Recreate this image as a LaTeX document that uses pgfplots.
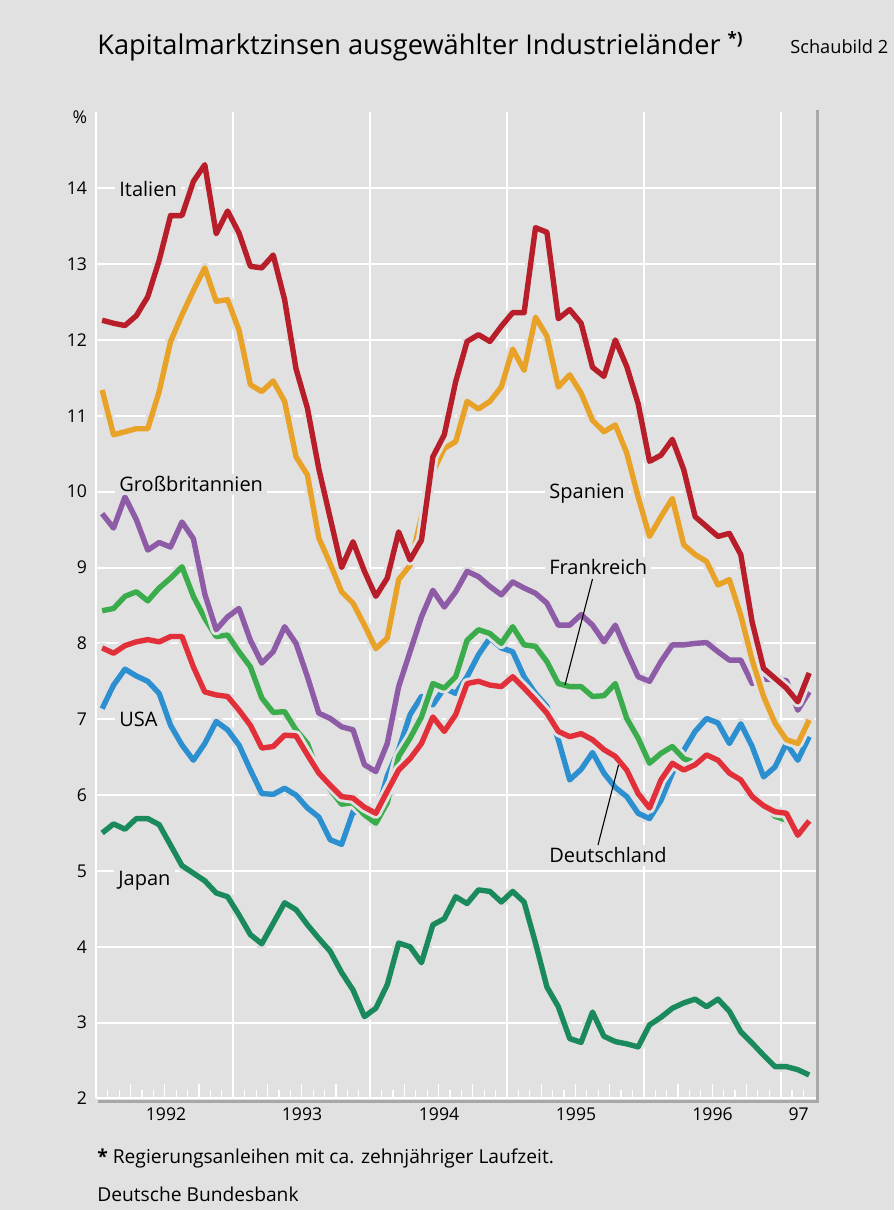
\documentclass[border=0pt]{standalone}
\usepackage{fontspec}
\setmainfont{Open Sans}
\usepackage{pgfplots}
\usepackage{pgfplotstable}
\pgfplotsset{compat=1.18}
\definecolor{bg}{HTML}{E1E1E1}
\definecolor{bordercol}{HTML}{A8A8A8}
\definecolor{itacol}{HTML}{B81D2A}
\definecolor{espcol}{HTML}{E8A228}
\definecolor{gbrcol}{HTML}{8E5BA6}
\definecolor{fracol}{HTML}{3AAC4C}
\definecolor{deucol}{HTML}{E2303A}
\definecolor{usacol}{HTML}{2B8FD0}
\definecolor{jpncol}{HTML}{1A8A5C}
\pgfplotstableread{
m ita esp gbr fra deu usa jpn
0.5 12.26 11.34 9.71 8.43 7.94 7.14 5.50
1.5 12.22 10.75 9.52 8.46 7.87 7.45 5.62
2.5 12.19 10.79 9.93 8.62 7.97 7.66 5.55
3.5 12.32 10.83 9.63 8.68 8.02 7.57 5.69
4.5 12.57 10.83 9.23 8.56 8.05 7.50 5.69
5.5 13.05 11.32 9.33 8.73 8.02 7.34 5.61
6.5 13.64 11.98 9.27 8.86 8.09 6.92 5.34
7.5 13.64 12.33 9.60 9.01 8.09 6.66 5.07
8.5 14.09 12.65 9.38 8.62 7.69 6.46 4.97
9.5 14.31 12.95 8.65 8.33 7.36 6.68 4.87
10.5 13.40 12.51 8.18 8.09 7.32 6.97 4.71
11.5 13.70 12.53 8.35 8.11 7.30 6.86 4.66
12.5 13.41 12.13 8.46 7.89 7.12 6.66 4.42
13.5 12.97 11.41 8.04 7.69 6.92 6.33 4.16
14.5 12.95 11.32 7.74 7.28 6.62 6.02 4.04
15.5 13.12 11.46 7.89 7.09 6.64 6.01 4.31
16.5 12.53 11.19 8.22 7.10 6.79 6.09 4.58
17.5 11.62 10.46 8.00 6.86 6.78 6.00 4.49
18.5 11.10 10.22 7.56 6.68 6.53 5.83 4.29
19.5 10.30 9.39 7.08 6.28 6.29 5.71 4.11
20.5 9.65 9.05 7.01 6.07 6.13 5.41 3.94
21.5 9.00 8.68 6.90 5.88 5.98 5.35 3.66
22.5 9.34 8.53 6.86 5.90 5.96 5.78 3.43
23.5 8.95 8.24 6.40 5.74 5.84 5.76 3.08
24.5 8.62 7.93 6.31 5.63 5.76 5.72 3.19
25.5 8.86 8.07 6.68 5.90 6.05 6.25 3.50
26.5 9.47 8.84 7.43 6.51 6.33 6.60 4.05
27.5 9.10 9.03 7.89 6.75 6.48 7.06 4.00
28.5 9.36 9.67 8.35 7.03 6.68 7.30 3.79
29.5 10.46 10.26 8.70 7.47 7.03 7.19 4.29
30.5 10.75 10.57 8.48 7.41 6.84 7.41 4.37
31.5 11.45 10.66 8.68 7.56 7.06 7.34 4.66
32.5 11.98 11.19 8.95 8.04 7.47 7.56 4.57
33.5 12.07 11.09 8.88 8.18 7.50 7.85 4.75
34.5 11.98 11.19 8.75 8.13 7.45 8.07 4.73
35.5 12.18 11.38 8.64 8.00 7.43 7.94 4.59
36.5 12.36 11.88 8.81 8.22 7.56 7.89 4.73
37.5 12.36 11.60 8.73 7.98 7.41 7.56 4.59
38.5 13.48 12.30 8.66 7.96 7.25 7.34 4.05
39.5 13.42 12.05 8.53 7.76 7.08 7.17 3.47
40.5 12.28 11.38 8.24 7.47 6.84 6.73 3.21
41.5 12.40 11.54 8.24 7.43 6.77 6.20 2.79
42.5 12.22 11.30 8.38 7.43 6.81 6.34 2.74
43.5 11.64 10.94 8.24 7.30 6.73 6.56 3.14
44.5 11.52 10.79 8.02 7.31 6.60 6.29 2.82
45.5 12.00 10.88 8.24 7.47 6.51 6.10 2.75
46.5 11.65 10.51 7.89 7.01 6.33 5.98 2.72
47.5 11.16 9.93 7.56 6.75 6.02 5.76 2.68
48.5 10.40 9.41 7.50 6.42 5.83 5.69 2.97
49.5 10.48 9.67 7.76 6.55 6.20 5.93 3.07
50.5 10.69 9.91 7.98 6.64 6.42 6.29 3.19
51.5 10.29 9.30 7.98 6.48 6.33 6.59 3.26
52.5 9.67 9.17 8.00 6.43 6.40 6.84 3.31
53.5 9.54 9.08 8.01 6.51 6.53 7.01 3.21
54.5 9.41 8.77 7.89 6.45 6.46 6.95 3.31
55.5 9.45 8.84 7.78 6.29 6.29 6.68 3.15
56.5 9.17 8.37 7.78 6.20 6.20 6.94 2.88
57.5 8.28 7.78 7.47 5.98 5.98 6.64 2.73
58.5 7.67 7.30 7.53 5.86 5.86 6.24 2.57
59.5 7.54 6.95 7.52 5.72 5.78 6.37 2.42
60.5 7.41 6.73 7.51 5.67 5.76 6.68 2.42
61.5 7.23 6.68 7.12 5.47 5.47 6.46 2.38
62.5 7.61 6.99 7.36 5.64 5.66 6.77 2.31
}\datatable
\newcommand\lab{\fontsize{10bp}{12bp}\selectfont}
\newcommand\tck{\fontsize{8.8bp}{10bp}\selectfont}
\begin{document}
\begin{tikzpicture}[x=0.5bp,y=0.5bp]
\fill[bg] (0,0) rectangle (894,1210);
\begin{axis}[
  at={(48.225bp,55.75bp)}, anchor=south west,
  scale only axis, width=360.125bp, height=493.03bp,
  xmin=0, xmax=63.16, ymin=2, ymax=15,
  axis line style={draw=none},
  /pgf/number format/assume math mode=true,
  xtick={3,6,9,15,18,21,27,30,33,39,42,45,51,54,57},
  xticklabels={},
  minor xtick={1,...,62},
  xtick pos=left, tick align=inside,
  major tick length=7bp, minor tick length=4bp,
  x tick style={white, line width=0.6bp},
  extra x ticks={0,12,24,36,48,60},
  extra x tick labels={},
  extra x tick style={grid=major, major tick length=0pt},
  ytick={2,...,14},
  yticklabels={2,3,4,5,6,7,8,9,10,11,12,13,14},
  y tick style={draw=none},
  ymajorgrids=true,
  extra y ticks={14.94},
  extra y tick labels={\%},
  extra y tick style={grid=none},
  major grid style={white, line width=1bp},
  yticklabel style={font=\tck, anchor=east, inner sep=0pt, xshift=-4.5bp},
  halo/.style={draw=bg, line width=5.6bp, line join=round, line cap=round, no markers},
  ln/.style={line width=2.7bp, line join=round, no markers},
]
\addplot[halo] table[x=m,y=jpn]{\datatable};
\addplot[ln, jpncol] table[x=m,y=jpn]{\datatable};
\addplot[halo] table[x=m,y=usa]{\datatable};
\addplot[ln, usacol] table[x=m,y=usa]{\datatable};
\addplot[halo] table[x=m,y=fra]{\datatable};
\addplot[ln, fracol] table[x=m,y=fra]{\datatable};
\addplot[halo] table[x=m,y=deu]{\datatable};
\addplot[ln, deucol] table[x=m,y=deu]{\datatable};
\addplot[halo] table[x=m,y=gbr]{\datatable};
\addplot[ln, gbrcol] table[x=m,y=gbr]{\datatable};
\addplot[halo] table[x=m,y=esp]{\datatable};
\addplot[ln, espcol] table[x=m,y=esp]{\datatable};
\addplot[halo] table[x=m,y=ita]{\datatable};
\addplot[ln, itacol] table[x=m,y=ita]{\datatable};
\end{axis}
% borders
\draw[bordercol, line width=1.5bp] (98,1210-1101.5) -- (819,1210-1101.5);
\draw[bordercol, line width=1.5bp] (817.5,1210-110) -- (817.5,1210-1103);
% x labels
\foreach \xx/\tt in {166/1992,302/1993,439/1994,576/1995,712.5/1996,798.7/97}
  \node[font=\tck, anchor=base, inner sep=0pt] at (\xx,1210-1121) {\tt};
% series labels
\tikzset{slab/.style={font=\lab, fill=bg, anchor=base west, inner xsep=2bp, inner ysep=1.5bp}}
\node[slab] at (115,1210-197) {Italien};
\node[slab] at (115,1210-492) {Großbritannien};
\node[slab] at (545,1210-499) {Spanien};
\node[slab] at (545,1210-575) {Frankreich};
\node[slab] at (115,1210-726.5) {USA};
\node[slab] at (545,1210-863) {Deutschland};
\node[slab] at (114,1210-886) {Japan};
% leader lines
\draw[black, line width=0.55bp] (592.5,1210-579) -- (565,1210-685);
\draw[black, line width=0.55bp] (618.5,1210-765) -- (598,1210-845);
% title
\node[anchor=base west, inner sep=0pt, font=\fontsize{13.6bp}{16bp}\selectfont] at (97,1210-55)
  {Kapitalmarktzinsen ausgewählter Industrieländer \raisebox{0.4em}{\fontsize{8.5bp}{9bp}\selectfont\bfseries *)}};
\node[anchor=base west, inner sep=0pt, font=\fontsize{9.1bp}{11bp}\selectfont] at (790,1210-54) {Schaubild 2};
% footnotes
\node[anchor=base west, inner sep=0pt, font=\fontsize{9.6bp}{11bp}\selectfont] at (97,1210-1164)
  {\textbf{*} Regierungsanleihen mit ca. zehnjähriger Laufzeit.};
\node[anchor=base west, inner sep=0pt, font=\fontsize{9.6bp}{11bp}\selectfont] at (97,1210-1202)
  {Deutsche Bundesbank};
\pgfresetboundingbox
\useasboundingbox (0,0) rectangle (894,1210);
\end{tikzpicture}
\end{document}
